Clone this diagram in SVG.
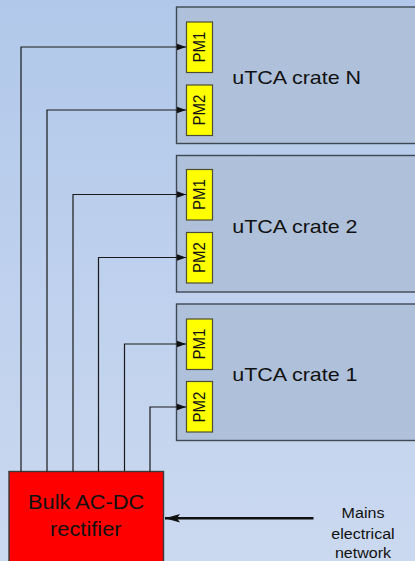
<svg xmlns="http://www.w3.org/2000/svg" width="415" height="561" viewBox="0 0 415 561">
<defs>
<linearGradient id="bg" x1="0" y1="0" x2="0" y2="1">
<stop offset="0" stop-color="#b1c8ea"/>
<stop offset="1" stop-color="#cbd9f0"/>
</linearGradient>
<marker id="ah" markerUnits="userSpaceOnUse" markerWidth="10" markerHeight="8" refX="9" refY="4" orient="auto">
<path d="M0,0.8 L9,4 L0,7.2 Z" fill="#111"/>
</marker>
<marker id="ahBig" markerUnits="userSpaceOnUse" markerWidth="16" markerHeight="10" refX="15" refY="5" orient="auto">
<path d="M0,0.8 L15,5 L0,9.2 L3,5 Z" fill="#111"/>
</marker>
</defs>
<style>
.crate{fill:#afc1da;stroke:#3f4753;stroke-width:1.4}
.pm{fill:#ffff00;stroke:#4d4d33;stroke-width:1.2}
.rect{fill:#ff0000;stroke:#3a3a3a;stroke-width:1.4}
.t{font-family:"Liberation Sans",Arial,sans-serif;fill:#111}
.lbl{font-size:19px}
.pmt{font-size:15px;text-anchor:middle}
.c{fill:none;stroke:#1a1a1a;stroke-width:1.2}
</style>
<rect x="0" y="0" width="415" height="561" fill="url(#bg)"/>

<g id="crateN">
<rect class="crate" x="176.5" y="7" width="260" height="136.5"/>
<rect class="pm" x="186.5" y="22" width="26" height="50.5"/>
<text class="t pmt" transform="translate(205,47) scale(1.13,1) rotate(-90)">PM1</text>
<rect class="pm" x="186.5" y="85" width="26" height="50.5"/>
<text class="t pmt" transform="translate(205,110) scale(1.13,1) rotate(-90)">PM2</text>
<text class="t lbl" transform="translate(232.3,84) scale(1.13,1)">uTCA crate N</text>
</g>

<g id="crate2">
<rect class="crate" x="176.5" y="155.5" width="260" height="136.5"/>
<rect class="pm" x="186.5" y="169.5" width="26" height="50.5"/>
<text class="t pmt" transform="translate(205,194.5) scale(1.13,1) rotate(-90)">PM1</text>
<rect class="pm" x="186.5" y="232.5" width="26" height="50.5"/>
<text class="t pmt" transform="translate(205,257.5) scale(1.13,1) rotate(-90)">PM2</text>
<text class="t lbl" transform="translate(232.3,232.5) scale(1.13,1)">uTCA crate 2</text>
</g>

<g id="crate1">
<rect class="crate" x="176.5" y="304" width="260" height="136.5"/>
<rect class="pm" x="186.5" y="319" width="26" height="50.5"/>
<text class="t pmt" transform="translate(205,344) scale(1.13,1) rotate(-90)">PM1</text>
<rect class="pm" x="186.5" y="381.5" width="26" height="50.5"/>
<text class="t pmt" transform="translate(205,407) scale(1.13,1) rotate(-90)">PM2</text>
<text class="t lbl" transform="translate(232.3,381) scale(1.13,1)">uTCA crate 1</text>
</g>

<g id="rectifier">
<rect class="rect" x="9" y="471.5" width="154.5" height="100"/>
<text class="t" font-size="19.3" text-anchor="middle" transform="translate(86.2,509.3) scale(1.13,1)">Bulk AC-DC</text>
<text class="t" font-size="19.3" text-anchor="middle" transform="translate(85.8,535.7) scale(1.13,1)">rectifier</text>
</g>

<g id="mains">
<text class="t" font-size="14.2" text-anchor="middle" transform="translate(363,518.3) scale(1.13,1)">Mains</text>
<text class="t" font-size="14.2" text-anchor="middle" transform="translate(363,538.5) scale(1.13,1)">electrical</text>
<text class="t" font-size="14.2" text-anchor="middle" transform="translate(363,557.5) scale(1.13,1)">network</text>
</g>

<g id="connectors">
<polyline class="c" points="21,471.5 21,47 186,47" marker-end="url(#ah)"/>
<polyline class="c" points="47,471.5 47,110 186,110" marker-end="url(#ah)"/>
<polyline class="c" points="73,471.5 73,194.5 186,194.5" marker-end="url(#ah)"/>
<polyline class="c" points="98.5,471.5 98.5,257.5 186,257.5" marker-end="url(#ah)"/>
<polyline class="c" points="124.5,471.5 124.5,344 186,344" marker-end="url(#ah)"/>
<polyline class="c" points="150,471.5 150,407 186,407" marker-end="url(#ah)"/>
<line x1="313.5" y1="518.3" x2="165" y2="518.3" stroke="#111" stroke-width="2.4" marker-end="url(#ahBig)"/>
</g>
</svg>
